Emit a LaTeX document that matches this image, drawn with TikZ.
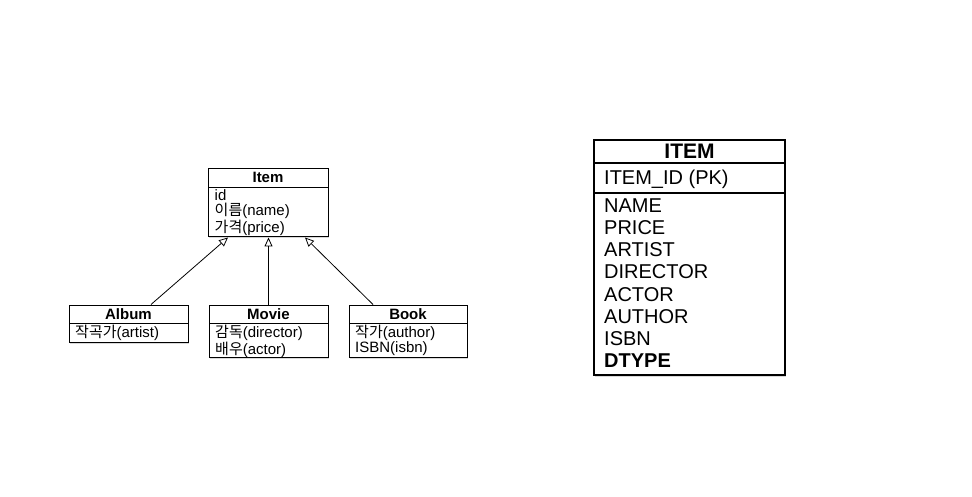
\documentclass[tikz,border=0pt]{standalone}
\usepackage{fontspec}
\setmainfont{Liberation Sans}
\newfontfamily\kr{Noto Sans CJK KR}
\usetikzlibrary{arrows.meta,shadows}

\tikzset{
  classbox/.style={draw, fill=white, line width=1pt, inner sep=0pt,
    drop shadow={opacity=0.3, shadow xshift=1pt, shadow yshift=-1.5pt}},
  classname/.style={font=\fontsize{15}{15}\selectfont\bfseries, anchor=base, inner sep=0pt},
  attrs/.style={font=\fontsize{15}{15}\selectfont, align=left, anchor=north west, inner sep=0pt},
  inherit/.style={-{Triangle[open,length=9pt,width=8pt]}, line width=0.8pt},
  colname/.style={font=\fontsize{20}{22}\selectfont, anchor=base west, inner sep=0pt},
}

\begin{document}
\begin{tikzpicture}[x=1pt,y=-1pt]
  \useasboundingbox (0,0) rectangle (972,497);

  % class diagram
  \node[classbox, minimum width=120, minimum height=68] (item) at (268,203) {};
  \draw[line width=1pt] (208,188) -- (328,188);
  \node[classname] (itemname) at (268,183) {Item};
  \node[attrs] (itemattrs) at (214.5,189.5) {id\\{\kr 이름}(name)\\{\kr 가격}(price)};

  \node[classbox, minimum width=119, minimum height=37] (album) at (128.5,323.5) {};
  \draw[line width=1pt] (69,323) -- (188,323);
  \node[classname] (albumname) at (128.5,319) {Album};
  \node[attrs] (albumattrs) at (75,325) {{\kr 작곡가}(artist)};

  \node[classbox, minimum width=119, minimum height=52] (movie) at (268.5,331) {};
  \draw[line width=1pt] (209,323) -- (328,323);
  \node[classname] (moviename) at (268.5,319) {Movie};
  \node[attrs] (movieattrs) at (215,325) {{\kr 감독}(director)\\{\kr 배우}(actor)};

  \node[classbox, minimum width=118, minimum height=52] (book) at (408,331) {};
  \draw[line width=1pt] (349,323) -- (467,323);
  \node[classname] (bookname) at (408,319) {Book};
  \node[attrs] (bookattrs) at (355,325) {{\kr 작가}(author)\\ISBN(isbn)};

  \draw[inherit] ([xshift=22.5pt]album.north) -- ([xshift=-40pt]item.south);
  \draw[inherit] (movie.north) -- ([xshift=0.5pt]item.south);
  \draw[inherit] ([xshift=-35pt]book.north) -- ([xshift=37pt]item.south);

  % table
  \node[classbox, line width=1.3pt, minimum width=191, minimum height=235] (table) at (689.5,257.5) {};
  \draw[line width=1.3pt] (594,163) -- (785,163);
  \draw[line width=1.3pt] (594,193) -- (785,193);
  \node[font=\fontsize{21}{22}\selectfont\bfseries, anchor=base, inner sep=0pt] (tablename) at (689.5,159) {ITEM};
  \node[colname] (pk) at (604,185) {ITEM\_ID (PK)};
  \foreach \col [count=\i from 0] in {NAME,PRICE,ARTIST,DIRECTOR,ACTOR,AUTHOR,ISBN}
    \node[colname] (col\i) at (604,213+22*\i) {\col};
  \node[colname, font=\fontsize{20}{22}\selectfont\bfseries] (dtype) at (604,367) {DTYPE};
\end{tikzpicture}
\end{document}
